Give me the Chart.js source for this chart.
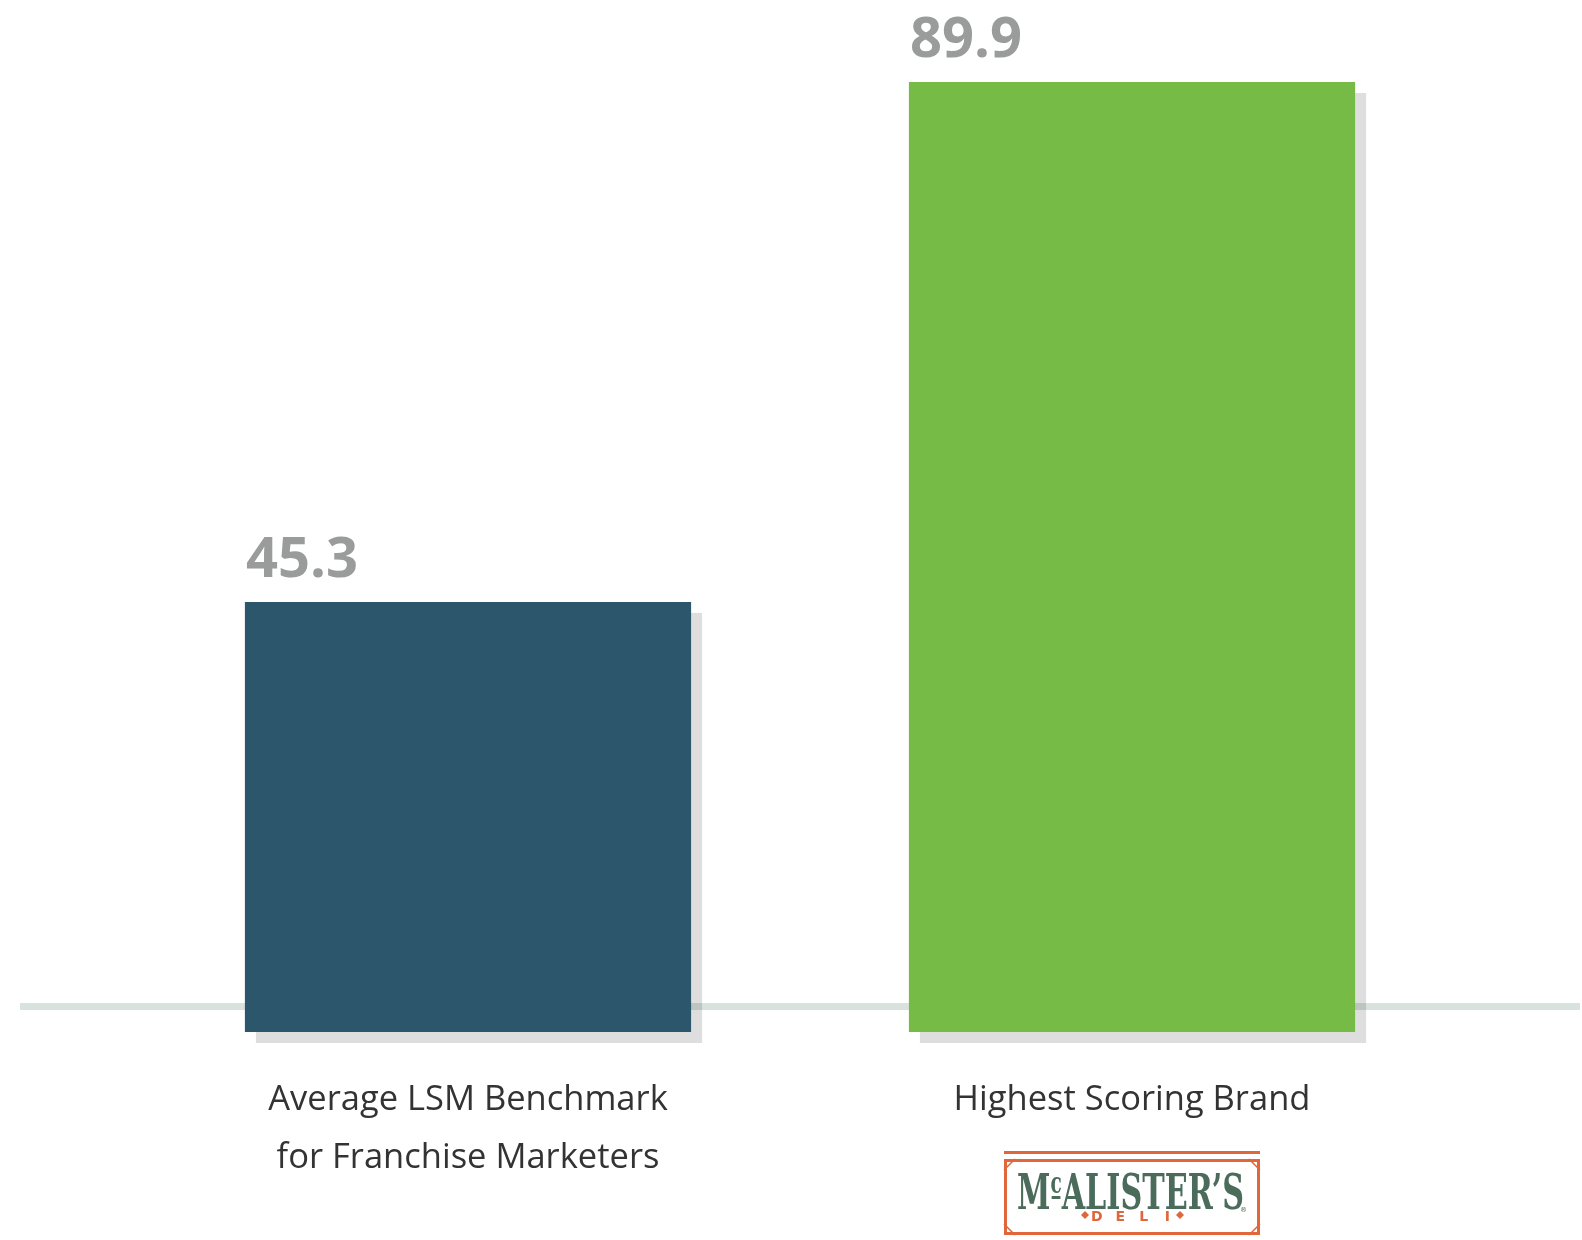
<!DOCTYPE html>
<html>
<head>
<meta charset="utf-8">
<title>LSM Benchmark</title>
<script src="https://cdn.jsdelivr.net/npm/chart.js@4.4.1/dist/chart.umd.min.js"></script>
<style>
  html, body { margin: 0; padding: 0; background: #fff; }
  canvas { display: block; }
</style>
</head>
<body>
<canvas id="scoreChart" width="1582" height="1240"></canvas>
<script>
// chart data
const categories = [
  ['Average LSM Benchmark', 'for Franchise Marketers'],
  ['Highest Scoring Brand']
];
const scores = [45.3, 89.9];
const barColors = ['#2c566b', '#77bb47'];
const axisMin = 8.4;
const axisMax = 89.9;

// grey floor line + drop shadows behind the bars
const floorAndShadows = {
  id: 'floorAndShadows',
  beforeDatasetsDraw(chart) {
    const ctx = chart.ctx;
    const bottom = chart.chartArea.bottom;
    ctx.save();
    ctx.fillStyle = '#d9e3de';
    ctx.fillRect(20, 1003, 1560, 7);
    ctx.fillStyle = 'rgba(0,0,0,0.13)';
    chart.getDatasetMeta(0).data.forEach(bar => {
      const left = bar.x - bar.width / 2;
      const base = Math.min(bar.base, bottom);
      ctx.fillRect(left + 11, bar.y + 11, bar.width, base - bar.y);
    });
    ctx.restore();
  }
};

// value labels above bars, category labels underneath
const barLabels = {
  id: 'barLabels',
  afterDatasetsDraw(chart) {
    const ctx = chart.ctx;
    const meta = chart.getDatasetMeta(0);
    ctx.save();
    meta.data.forEach((bar, i) => {
      const left = bar.x - bar.width / 2;
      ctx.font = 'bold 56px "Open Sans"';
      ctx.fillStyle = '#9a9b9b';
      ctx.textAlign = 'left';
      ctx.textBaseline = 'alphabetic';
      ctx.fillText(scores[i].toFixed(1), left + 1, bar.y - 25);

      ctx.font = '34.5px "Open Sans"';
      ctx.fillStyle = '#333333';
      ctx.textAlign = 'center';
      categories[i].forEach((line, j) => {
        ctx.fillText(line, bar.x, 1110 + j * 58);
      });
    });
    drawLogo(ctx, meta.data[1].x);
    ctx.restore();
  }
};

function drawLogo(ctx, cx) {
  const orange = '#e0673b';
  const green = '#4b6b5b';
  const left = cx - 128, right = cx + 128;
  const top = 1159, bottom = 1235;

  ctx.save();
  ctx.strokeStyle = orange;
  ctx.lineWidth = 3;
  ctx.beginPath();
  ctx.moveTo(left, 1152.5);
  ctx.lineTo(right, 1152.5);
  ctx.stroke();
  ctx.strokeRect(left + 1.5, top + 1.5, right - left - 3, bottom - top - 3);

  // cut corners
  ctx.lineWidth = 1.5;
  const c = 11;
  ctx.beginPath();
  ctx.moveTo(left, top + c); ctx.lineTo(left + c, top);
  ctx.moveTo(right, top + c); ctx.lineTo(right - c, top);
  ctx.moveTo(left, bottom - c); ctx.lineTo(left + c, bottom);
  ctx.moveTo(right, bottom - c); ctx.lineTo(right - c, bottom);
  ctx.stroke();

  // wordmark
  ctx.fillStyle = green;
  ctx.textBaseline = 'alphabetic';
  ctx.textAlign = 'left';
  const big = 'bold 49px "DejaVu Serif"';
  const small = 'bold 30px "DejaVu Serif"';
  ctx.font = big;
  const wM = ctx.measureText('M').width;
  const wRest = ctx.measureText('ALISTER\u2019S').width;
  ctx.font = small;
  const wc = ctx.measureText('c').width;
  const total = wM + wc + wRest;
  const sx = 227 / total;
  ctx.save();
  ctx.translate(left + 13, 1209);
  ctx.scale(sx, 1);
  ctx.font = big;
  ctx.fillText('M', 0, 0);
  ctx.font = small;
  ctx.fillText('c', wM, -16);
  ctx.fillRect(wM + 2, -13, wc - 4, 3);
  ctx.font = big;
  ctx.fillText('ALISTER\u2019S', wM + wc, 0);
  ctx.restore();

  ctx.font = '7px "DejaVu Sans"';
  ctx.fillText('\u00ae', right - 20, 1212);

  // DELI line
  ctx.fillStyle = orange;
  ctx.font = 'bold 14px "DejaVu Sans"';
  ctx.textAlign = 'center';
  'DELI'.split('').forEach((ch, i) => {
    ctx.fillText(ch, cx + (i - 1.5) * 23.5, 1221);
  });
  [cx - 47, cx + 48].forEach(dx => {
    ctx.beginPath();
    ctx.moveTo(dx, 1211);
    ctx.lineTo(dx + 4, 1215);
    ctx.lineTo(dx, 1219);
    ctx.lineTo(dx - 4, 1215);
    ctx.closePath();
    ctx.fill();
  });
  ctx.restore();
}

new Chart(document.getElementById('scoreChart'), {
  type: 'bar',
  data: {
    labels: categories,
    datasets: [{
      data: scores,
      backgroundColor: barColors,
      borderWidth: 0,
      categoryPercentage: 1,
      barPercentage: 0.672
    }]
  },
  options: {
    responsive: false,
    animation: false,
    layout: { padding: { top: 82, bottom: 208, left: 136, right: 118 } },
    plugins: {
      legend: { display: false },
      tooltip: { enabled: false }
    },
    scales: {
      x: { display: false },
      y: { display: false, min: axisMin, max: axisMax }
    }
  },
  plugins: [floorAndShadows, barLabels]
});
</script>
</body>
</html>
